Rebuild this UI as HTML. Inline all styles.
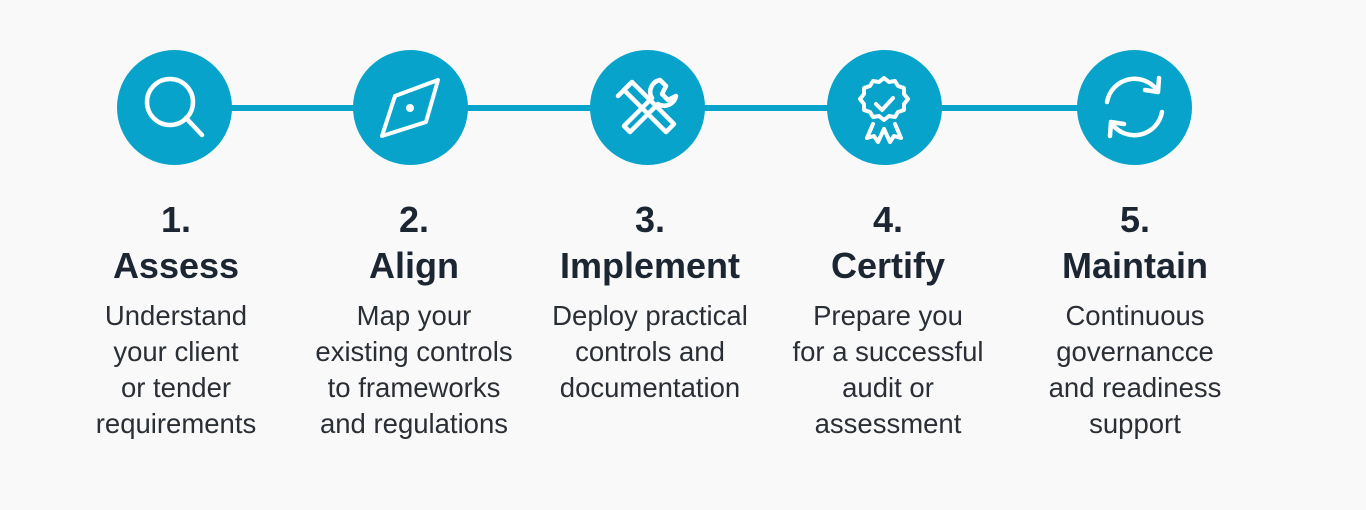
<!DOCTYPE html>
<html><head><style>
html,body{margin:0;padding:0;background:#f9f9f9;width:1366px;height:510px;overflow:hidden}
body{position:relative;font-family:"Liberation Sans",sans-serif;color:#1f2a37}
.line{position:absolute;left:174px;top:105px;width:960px;height:6px;background:#07a3cb}
.c{position:absolute;width:115px;height:115px;border-radius:50%;background:#07a3cb;top:50px}
.c svg{position:absolute;left:0;top:0}
.col{position:absolute;top:197px;width:300px;text-align:center}
.n{font-size:36px;font-weight:bold;line-height:46px;color:#1c2633}
.t{font-size:36px;font-weight:bold;line-height:46px;color:#1c2633}
.d{font-size:27.5px;line-height:36px;margin-top:9px;color:#2a2f36}
</style></head><body>
<div class="line"></div>
<div class="c" style="left:117px"><svg width="115" height="115" fill="none" stroke="#fff" stroke-width="4.5" stroke-linecap="round"><circle cx="53" cy="52" r="23"/><line x1="69" y1="68" x2="85" y2="85"/></svg></div>
<div class="c" style="left:353px"><svg width="115" height="115" fill="none" stroke="#fff" stroke-width="4" stroke-linejoin="round"><path d="M85 30 L73 72 L29 86 L42 46 Z"/><circle cx="57" cy="58" r="4" fill="#fff" stroke="none"/></svg></div>
<div class="c" style="left:590px"><svg width="115" height="115" fill="none" stroke="#fff" stroke-width="4.5" stroke-linejoin="round" stroke-linecap="round"><path d="M34 40 L42 32 L84 74 L76 82 Z"/><path d="M28 46 L40 34"/><path d="M70 30 a12 12 0 0 0 -8 18 L34 76 l6 6 L68 54 a12 12 0 0 0 18 -8 l-8 4 -6 -6 4 -8 z"/></svg></div>
<div class="c" style="left:827px"><svg width="115" height="115" fill="none" stroke="#fff" stroke-width="4" stroke-linejoin="round" stroke-linecap="round"><path d="M57 28 l5 4 6-1 3 5 6 2 0 6 4 5-4 5 0 6-6 2-3 5-6-1-5 4-5-4-6 1-3-5-6-2 0-6-4-5 4-5 0-6 6-2 3-5 6 1z"/><path d="M49 54 l6 6 11-12"/><path d="M46 74 l-6 14 7-2 4 6 6-13 M68 74 l6 14-7-2-4 6-6-13"/></svg></div>
<div class="c" style="left:1077px"><svg width="115" height="115" fill="none" stroke="#fff" stroke-width="4.5" stroke-linecap="round" stroke-linejoin="round"><path d="M30 52 A28 28 0 0 1 80 40"/><path d="M82 28 L81 42 L68 40"/><path d="M85 62 A28 28 0 0 1 35 74"/><path d="M33 86 L34 72 L47 74"/></svg></div>

<div class="col" style="left:26px"><div class="n">1.</div><div class="t">Assess</div><div class="d">Understand<br>your client<br>or tender<br>requirements</div></div>
<div class="col" style="left:264px"><div class="n">2.</div><div class="t">Align</div><div class="d">Map your<br>existing controls<br>to frameworks<br>and regulations</div></div>
<div class="col" style="left:500px"><div class="n">3.</div><div class="t">Implement</div><div class="d">Deploy practical<br>controls and<br>documentation</div></div>
<div class="col" style="left:738px"><div class="n">4.</div><div class="t">Certify</div><div class="d">Prepare you<br>for a successful<br>audit or<br>assessment</div></div>
<div class="col" style="left:985px"><div class="n">5.</div><div class="t">Maintain</div><div class="d">Continuous<br>governancce<br>and readiness<br>support</div></div>
</body></html>
